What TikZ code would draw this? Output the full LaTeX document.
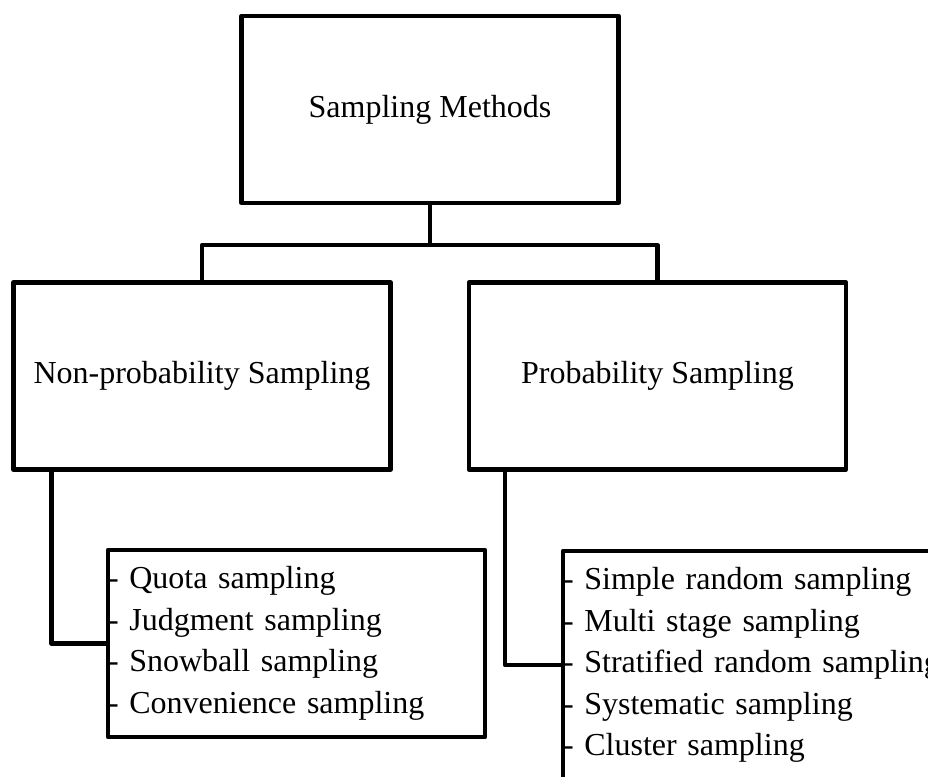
\documentclass[tikz,border=0pt]{standalone}
\usepackage{fontspec}
\setmainfont{Liberation Serif}
\usepackage{tikz}
\usetikzlibrary{positioning}
\usetikzlibrary{calc}
\newcommand{\chartFont}{\fontsize{32}{41.5}\selectfont}

\begin{document}
\begin{tikzpicture}[
  x=1pt, y=1pt,
  link/.style ={
    line width=4.3pt, line join=round
  },
  box/.style 2 args={
    rectangle,
    draw=black,
    line width=4.3pt,
    line join=round,
    minimum width=#1,
    minimum height=#2,
    inner sep=0pt,
    font=\chartFont},
  listbox/.style 2 args={
    rectangle,
    draw=black,
    line width=4.3pt,
    line join=round,
    minimum width=#1,
    minimum height=#2,
    text width=#1,
    inner sep=0pt,
    align=left,
    font=\chartFont},
]

  \useasboundingbox (0,0) rectangle (928,776);

  \def\boxw{377}%
  \def\boxh{187}%
  \def\lvlmid{400}%

    % Root
  \node[box={\boxw}{\boxh}] (methods) at (430, 666.5) {Sampling Methods};

    % Two kinds of sampling
  \node[box={\boxw}{\boxh}] (nonprob) at (202, \lvlmid) {Non-probability Sampling};
  \node[box={\boxw}{\boxh}] (prob) at (657.5, \lvlmid) {Probability Sampling};

    % Lists of methods
  \node[listbox={\boxw}{\boxh}] (nonproblist) at (296.5, 132.5)
    {- Quota sampling\\- Judgment sampling\\- Snowball sampling\\- Convenience sampling};
  \node[listbox={420}{228}] (problist) at (773, 111)
    {- Simple random sampling\\- Multi stage sampling\\- Stratified random sampling\\- Systematic sampling\\- Cluster sampling};

    % Connectors
  \draw[link] (methods.south) -- ++(0,-40) coordinate (split);
  \draw[link] (nonprob.north) |- (split) -| (prob.north);

  \draw[link] ([xshift=40]nonprob.south west) |- (nonproblist.west);
  \draw[link] ([xshift=38]prob.south west) |- (problist.west);

\end{tikzpicture}
\end{document}
